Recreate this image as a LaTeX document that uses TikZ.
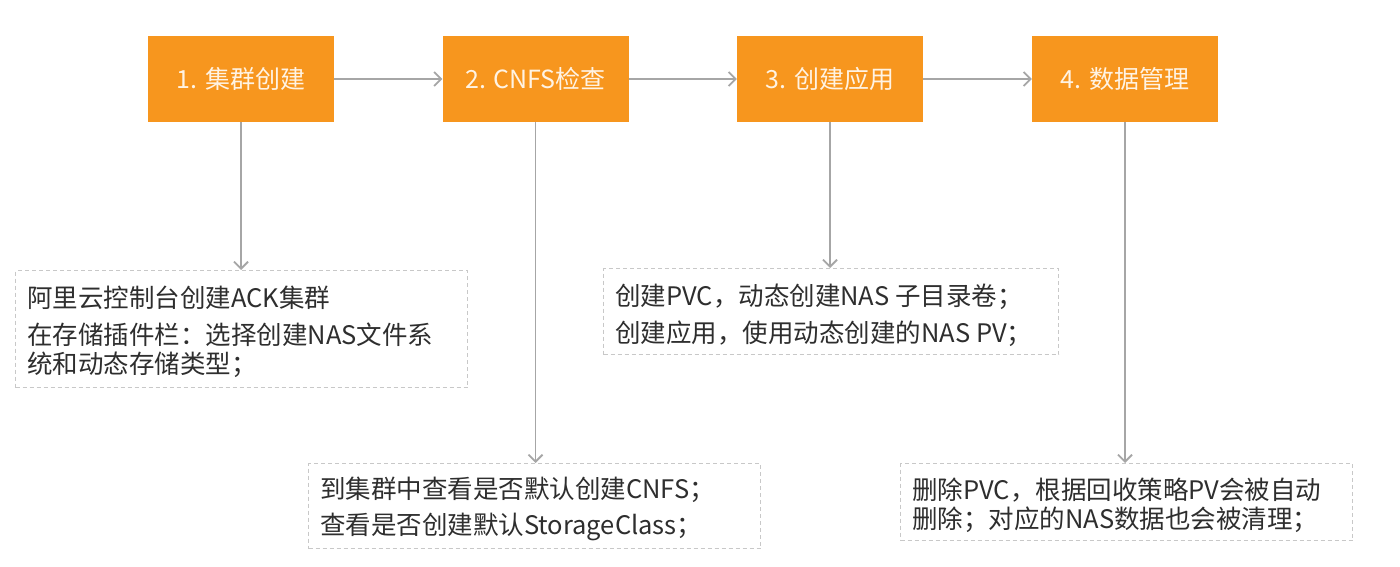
\documentclass[tikz,border=0pt]{standalone}
\usepackage{fontspec}
\setmainfont{Noto Sans CJK SC}
\usetikzlibrary{arrows.meta}
\definecolor{stepor}{HTML}{F7961E}
\definecolor{steptx}{HTML}{FFF3E3}
\definecolor{arrgray}{HTML}{A6A6A6}
\definecolor{dashgray}{HTML}{C8C8C8}
\definecolor{bodytx}{HTML}{2E2E2E}
\tikzset{
  stepbox/.style={fill=stepor, draw=none, minimum width=186pt, minimum height=86pt,
    inner sep=0pt, text=steptx, font=\fontsize{25}{29}\selectfont},
  notebox/.style={draw=dashgray, line width=1.2pt, dash pattern=on 4pt off 3pt,
    fill=white, inner sep=0pt, anchor=north west},
  noteline/.style={anchor=west, inner sep=0pt, text=bodytx, font=\fontsize{25.5}{29}\selectfont},
  flow/.style={draw=arrgray, line width=1.6pt, -{Straight Barb[length=7pt,width=14pt,line width=1.8pt]}}
}
\begin{document}
\begin{tikzpicture}[x=1pt,y=-1pt]
\useasboundingbox[fill=white] (0,0) rectangle (1400,567);
% step boxes
\node[stepbox] (s1) at (241,79) {1. 集群创建};
\node[stepbox] (s2) at (535.5,79) {2. CNFS检查};
\node[stepbox] (s3) at (830,79) {3. 创建应用};
\node[stepbox] (s4) at (1125,79) {4. 数据管理};
% note boxes
\node[notebox, minimum width=452pt, minimum height=117pt] (n1) at (15,270) {};
\node[notebox, minimum width=455pt, minimum height=86pt] (n3) at (603,268) {};
\node[notebox, minimum width=452pt, minimum height=85pt] (n2) at (308,463) {};
\node[notebox, minimum width=452pt, minimum height=77pt] (n4) at (900,463) {};
% texts
\node[noteline] (t11) at (27,298) {阿里云控制台创建ACK集群};
\node[noteline] (t12) at (27,335) {在存储插件栏：选择创建NAS文件系};
\node[noteline] (t13) at (27,365) {统和动态存储类型；};
\node[noteline] (t31) at (615,297) {创建PVC，动态创建NAS 子目录卷；};
\node[noteline] (t32) at (615,334) {创建应用，使用动态创建的NAS PV；};
\node[noteline] (t21) at (320,490) {到集群中查看是否默认创建CNFS；};
\node[noteline] (t22) at (320,527) {查看是否创建默认StorageClass；};
\node[noteline] (t41) at (912,490) {删除PVC，根据回收策略PV会被自动};
\node[noteline] (t42) at (912,520) {删除；对应的NAS数据也会被清理；};
% connectors
\draw[flow] (s1.east) -- (s2.west);
\draw[flow] (s2.east) -- (s3.west);
\draw[flow] (s3.east) -- (s4.west);
\draw[flow] (s1.south) -- (s1.south |- n1.north);
\draw[flow] (s2.south) -- (s2.south |- n2.north);
\draw[flow] (s3.south) -- (s3.south |- n3.north);
\draw[flow] (s4.south) -- (s4.south |- n4.north);
\end{tikzpicture}
\end{document}
